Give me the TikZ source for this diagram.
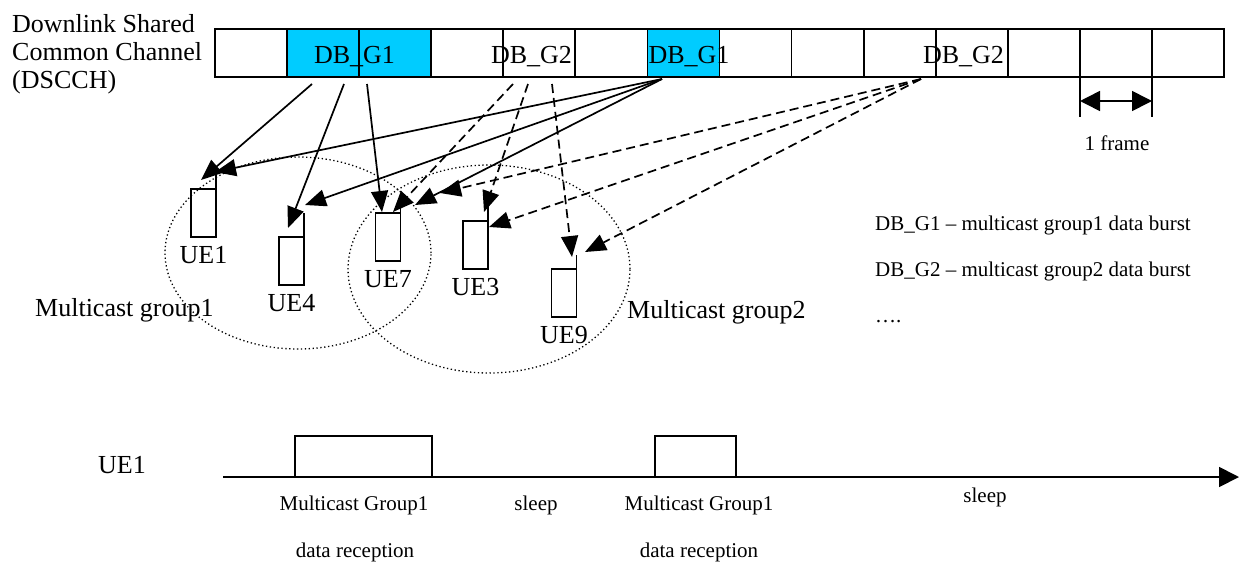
\documentclass[tikz,border=0pt]{standalone}
\usepackage{fontspec}
\setmainfont{Liberation Serif}
\usetikzlibrary{arrows.meta,positioning,calc}
\definecolor{burstcyan}{RGB}{0,204,255}
\newcommand\bigtxt{\fontsize{26}{28}\selectfont}
\newcommand\smalltxt{\fontsize{21}{24}\selectfont}
\tikzset{
  cell/.style={draw, line width=1.8pt, minimum width=72.07pt, minimum height=48pt, inner sep=0pt},
  bursttxt/.style={font=\bigtxt, inner sep=0pt, anchor=base},
  note/.style={font=\smalltxt, inner sep=0pt, anchor=base},
  ue/.style={draw, line width=1.8pt, minimum width=25pt, minimum height=48pt, inner sep=0pt, outer sep=0pt},
  uelabel/.style={font=\bigtxt, inner sep=0pt, outer sep=0pt},
  g1arrow/.style={line width=1.7pt, -{Triangle[length=21pt,width=17pt]}},
  g2arrow/.style={g1arrow, dash pattern=on 9pt off 5pt},
  groupline/.style={line width=1.3pt, dash pattern=on 1.3pt off 2.6pt},
  axisarrow/.style={line width=1.8pt, -{Triangle[length=20pt,width=20pt]}}
}
\begin{document}
\begin{tikzpicture}[x=1pt,y=-1pt]
\useasboundingbox (0,0) rectangle (1241,563);
% channel and its frames
\node[font=\bigtxt, align=left, anchor=north west, inner sep=0pt] (dscch) at (12,14) {Downlink Shared\\Common Channel\\(DSCCH)};
\foreach \i/\col in {1/white,2/burstcyan,3/burstcyan,4/white,5/white,6/white,7/burstcyan,8/white,9/white,10/white,11/white,12/white,13/white,14/white}
  \node[cell, fill=\col] (c\i) at ({215+72.07*(\i-0.5)},53) {};
\node[bursttxt] (b1) at (354.5,63) {DB\_G1};
\node[bursttxt] (b2) at (531.5,63) {DB\_G2};
\node[bursttxt] (b3) at (689,63) {DB\_G1};
\node[bursttxt] (b4) at (963.5,63) {DB\_G2};
% one frame
\coordinate (fa) at (1080,101);
\coordinate (fb) at (1152,101);
\draw[line width=1.6pt] (1080,78) -- (1080,117) (1152,78) -- (1152,117);
\draw[line width=1.6pt, {Triangle[length=20pt,width=20pt]}-{Triangle[length=20pt,width=20pt]}] (fa) -- (fb);
\node[note] (frame) at (1117,150) {1 frame};
% user equipments
\node[ue] (ue1) at (203.5,213) {};
\node[ue] (ue4) at (291.5,261) {};
\node[ue] (ue7) at (388,237) {};
\node[ue] (ue3) at (475.5,245) {};
\node[ue] (ue9) at (564,293) {};
\node[uelabel, below=9pt of ue1] (ue1lab) {UE1};
\node[uelabel, below=9pt of ue4] (ue4lab) {UE4};
\node[uelabel, below=9pt of ue7] (ue7lab) {UE7};
\node[uelabel, below=9pt of ue3] (ue3lab) {UE3};
\node[uelabel, below=9pt of ue9] (ue9lab) {UE9};
\draw[line width=1.8pt] (ue1.north east) -- ++(0,-14);
\draw[line width=1.8pt] (ue4.north east) -- ++(0,-24);
\draw[line width=1.8pt] (ue7.north east) -- ++(0,-8);
\draw[line width=1.8pt] (ue3.north east) -- ++(0,-16);
\draw[line width=1.8pt] (ue9.north east) -- ++(0,-14);
% multicast groups
\draw[groupline] (298,253) ellipse [x radius=133pt, y radius=96pt];
\draw[groupline] (489,269) ellipse [x radius=141pt, y radius=104pt];
\node[bursttxt, anchor=base west] (grp1) at (35,316) {Multicast group1};
\node[bursttxt, anchor=base west] (grp2) at (627,318) {Multicast group2};
% burst sources and arrival points
\coordinate (s1) at (312,84);
\coordinate (s2) at (344,84);
\coordinate (s3) at (367,84);
\coordinate (s4) at (513,84);
\coordinate (s5) at (528,84);
\coordinate (s6) at (552,84);
\coordinate (s7) at (662,79);
\coordinate (s8) at (921,79);
\coordinate (ue1p) at (201,180);
\coordinate (ue1q) at (215,172);
\coordinate (ue4p) at (288,228);
\coordinate (ue4q) at (305,205);
\coordinate (ue7p) at (382,212);
\coordinate (ue7q) at (393,212);
\coordinate (ue7r) at (415,205);
\coordinate (ue7s) at (440,193);
\coordinate (ue3p) at (484,212);
\coordinate (ue3q) at (489,227);
\coordinate (ue9p) at (572,257);
\coordinate (ue9q) at (585,252);
\draw[g1arrow] (s1) -- (ue1p);
\draw[g1arrow] (s2) -- (ue4p);
\draw[g1arrow] (s3) -- (ue7p);
\draw[g2arrow] (s4) -- (ue7q);
\draw[g2arrow] (s5) -- (ue3p);
\draw[g2arrow] (s6) -- (ue9p);
\draw[g1arrow] (s7) -- (ue1q);
\draw[g1arrow] (s7) -- (ue4q);
\draw[g1arrow] (s7) -- (ue7r);
\draw[g2arrow] (s8) -- (ue7s);
\draw[g2arrow] (s8) -- (ue3q);
\draw[g2arrow] (s8) -- (ue9q);
% legend
\node[note, anchor=base west] (leg1) at (875,230) {DB\_G1 – multicast group1 data burst};
\node[note, anchor=base west] (leg2) at (875,276) {DB\_G2 – multicast group2 data burst};
\node[note, anchor=base west] (leg3) at (875,322) {….};
% UE1 reception timeline
\node[bursttxt] (ue1time) at (122,473) {UE1};
\coordinate (t0) at (223,477);
\coordinate (t1) at (1239,477);
\draw[axisarrow] (t0) -- (t1);
\draw[line width=1.8pt] (295,477) |- (432,436) -- (432,477);
\draw[line width=1.8pt] (655,477) |- (736,436) -- (736,477);
\node[note] (rx1) at (354,510) {Multicast Group1};
\node[note] (rx1b) at (355,557) {data reception};
\node[note] (sl1) at (536,510) {sleep};
\node[note] (rx2) at (699,510) {Multicast Group1};
\node[note] (rx2b) at (699,557) {data reception};
\node[note] (sl2) at (985,502) {sleep};
\end{tikzpicture}
\end{document}
